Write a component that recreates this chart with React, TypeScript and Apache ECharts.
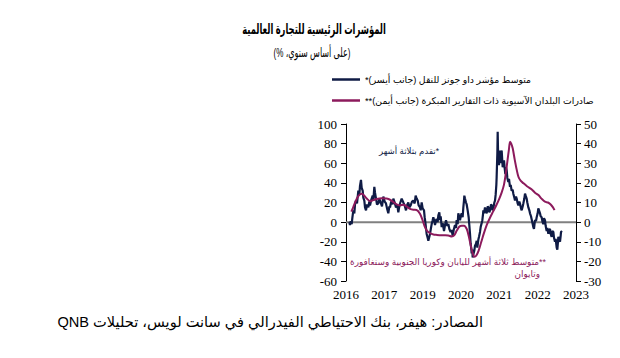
import React, { useEffect, useRef } from "react";
import * as echarts from "echarts";

// x positions are in axis periods (0 = first label, 1 = next label, ...)
const X_LABELS = ["2016", "2017", "2019", "2020", "2021", "2022", "2023"];

const TITLE = "المؤشرات الرئيسية للتجارة العالمية";
const SUBTITLE = "(على أساس سنوي، %)";
const RLE = "\u202B";
const PDF = "\u202C";
const NAVY_NAME = "متوسط مؤشر داو جونز للنقل (جانب أيسر)*";
const MAROON_NAME = "صادرات البلدان الآسيوية ذات التقارير المبكرة (جانب أيمن)**";
const NOTE_NAVY = "*تقدم بثلاثة أشهر";
const NOTE_MAROON_1 = "**متوسط ثلاثة أشهر لليابان وكوريا الجنوبية وسنغافورة";
const NOTE_MAROON_2 = "وتايوان";
const SOURCE = "المصادر: هيفر، بنك الاحتياطي الفيدرالي في سانت لويس، تحليلات QNB";

// Dow Jones Transport index, 3m avg, y/y % (left axis)
const NAVY: [number, number][] = [
  [0.087, 0], [0.104, -3], [0.122, 1], [0.148, -2], [0.165, 4], [0.191, 12], [0.217, 9], [0.235, 18],
  [0.261, 22], [0.287, 19], [0.322, 32], [0.348, 28], [0.365, 37], [0.391, 43], [0.409, 35], [0.435, 32],
  [0.452, 25], [0.478, 22], [0.496, 15], [0.522, 12], [0.548, 18], [0.583, 15], [0.609, 21], [0.626, 17],
  [0.661, 23], [0.696, 27], [0.713, 22], [0.739, 36], [0.757, 30], [0.783, 24], [0.809, 18], [0.843, 19],
  [0.87, 24], [0.904, 20], [0.939, 16], [0.974, 26], [1.009, 21], [1.043, 19], [1.07, 14], [1.104, 9],
  [1.13, 16], [1.148, 15], [1.174, 20], [1.191, 22], [1.217, 18], [1.235, 24], [1.27, 20], [1.304, 15],
  [1.339, 17], [1.365, 10], [1.391, 16], [1.409, 19], [1.452, 24], [1.496, 20], [1.53, 17], [1.565, 12],
  [1.6, 18], [1.626, 20], [1.652, 15], [1.687, 17], [1.722, 21], [1.757, 22], [1.791, 19], [1.817, 27],
  [1.843, 24], [1.87, 22], [1.896, 17], [1.93, 15], [1.948, 12], [1.974, 20], [2.0, 14], [2.035, 12],
  [2.052, 5], [2.07, 0], [2.087, -6], [2.104, -12], [2.13, -16], [2.148, -19], [2.174, -15], [2.191, -12],
  [2.217, -6], [2.235, -2], [2.261, 2], [2.278, 5], [2.304, 1], [2.322, -3], [2.348, 2], [2.365, 3],
  [2.391, 0], [2.409, 7], [2.435, 10], [2.452, 2], [2.47, 6], [2.496, -5], [2.522, -1], [2.557, -9],
  [2.583, -3], [2.609, 2], [2.643, -4], [2.67, -2], [2.696, -7], [2.73, -10], [2.757, -8], [2.783, -14],
  [2.809, -8], [2.843, -3], [2.87, -6], [2.887, 2], [2.913, -2], [2.93, 9], [2.957, 5], [2.974, 2],
  [3.0, 7], [3.017, 9], [3.043, 5], [3.061, 15], [3.078, 22], [3.087, 27], [3.104, 24], [3.13, 20],
  [3.148, 18], [3.174, 12], [3.2, 5], [3.217, -3], [3.235, -12], [3.252, -22], [3.27, -28], [3.278, -32],
  [3.296, -28], [3.304, -36], [3.322, -33], [3.348, -29], [3.365, -24], [3.391, -22], [3.409, -19], [3.426, -26],
  [3.452, -18], [3.47, -15], [3.496, -10], [3.513, -5], [3.539, -1], [3.557, 2], [3.574, 8], [3.583, 12],
  [3.6, 9], [3.626, 15], [3.652, 11], [3.67, 9], [3.696, 16], [3.713, 15], [3.739, 10], [3.757, 12],
  [3.783, 18], [3.8, 17], [3.826, 12], [3.843, 14], [3.87, 20], [3.887, 22], [3.904, 28], [3.922, 38],
  [3.93, 46], [3.948, 70], [3.957, 92], [3.965, 75], [3.974, 63], [3.991, 58], [4.0, 73], [4.017, 65],
  [4.026, 60], [4.043, 68], [4.061, 73], [4.078, 62], [4.087, 56], [4.104, 58], [4.122, 63], [4.139, 55],
  [4.157, 49], [4.174, 56], [4.191, 53], [4.209, 45], [4.235, 41], [4.252, 44], [4.278, 36], [4.296, 38],
  [4.322, 32], [4.348, 33], [4.365, 29], [4.391, 25], [4.409, 22], [4.435, 26], [4.452, 24], [4.478, 19],
  [4.496, 17], [4.522, 21], [4.539, 19], [4.565, 14], [4.583, 12], [4.609, 16], [4.626, 19], [4.652, 24],
  [4.67, 29], [4.687, 27], [4.713, 24], [4.73, 20], [4.757, 15], [4.783, 12], [4.8, 9], [4.826, 6],
  [4.843, 3], [4.87, -2], [4.887, -5], [4.904, -7], [4.93, 2], [4.957, 1], [4.974, 5], [5.0, 9],
  [5.017, 14], [5.035, 12], [5.061, 9], [5.078, 6], [5.104, 5], [5.122, 1], [5.148, -2], [5.165, 4],
  [5.191, 2], [5.209, -4], [5.235, -9], [5.252, -6], [5.278, -12], [5.296, -8], [5.322, -7], [5.339, -12],
  [5.365, -15], [5.383, -9], [5.409, -10], [5.426, -16], [5.452, -20], [5.47, -17], [5.496, -26], [5.513, -28],
  [5.53, -20], [5.539, -15], [5.557, -18], [5.583, -20], [5.6, -14], [5.609, -10], [5.635, -9],
];

// Early-reporting Asian exports, 3m avg, y/y % (right axis)
const MAROON: [number, number][] = [
  [0.14, 5.3], [0.19, 7.7], [0.26, 11], [0.32, 13.2], [0.4, 14.4], [0.46, 13.8], [0.54, 12], [0.63, 10.7],
  [0.71, 11.2], [0.8, 11.8], [0.93, 12.2], [1.06, 12], [1.15, 11.4], [1.24, 10.2], [1.32, 9], [1.41, 8.5],
  [1.5, 8.9], [1.58, 8], [1.67, 6.8], [1.76, 6.3], [1.84, 6.2], [1.93, 4.3], [2.0, 0.9], [2.06, -2.6],
  [2.12, -4.6], [2.19, -5.6], [2.28, -6.3], [2.37, -6.5], [2.54, -6.7], [2.67, -6.8], [2.76, -7.3], [2.82, -6.8],
  [2.89, -4.3], [2.96, -2.2], [3.02, -1.8], [3.08, -1.8], [3.15, -3.5], [3.2, -7], [3.25, -11.5], [3.3, -15.5],
  [3.35, -17.7], [3.4, -17], [3.46, -14.5], [3.53, -10], [3.6, -5.5], [3.67, -1.5], [3.75, 2], [3.84, 5.5],
  [3.93, 9], [4.0, 12], [4.06, 15], [4.12, 19], [4.17, 25], [4.21, 31], [4.25, 37], [4.28, 41],
  [4.31, 40], [4.35, 37.5], [4.4, 32], [4.45, 27], [4.5, 23], [4.56, 21], [4.63, 19.8], [4.72, 18.3],
  [4.84, 16.8], [4.93, 15], [5.02, 13.8], [5.1, 12], [5.19, 10.4], [5.27, 10], [5.34, 9], [5.4, 7.5],
  [5.44, 6.1],
];

const ZERO_LINE: [number, number][] = [[0, 0], [6, 0]];

const NAVY_COLOR = "#0f1b45";
const MAROON_COLOR = "#8c1a5c";
const AR_FONT = "'Liberation Sans', 'DejaVu Sans', sans-serif";
const NUM_FONT = "'Liberation Serif', 'DejaVu Serif', serif";

const rtl = (s: string) => RLE + s + PDF;

export default function App() {
  const ref = useRef<HTMLDivElement>(null);
  useEffect(() => {
    document.body.style.margin = "0";
    if (!ref.current) return;
    const chart = echarts.init(ref.current, undefined, { renderer: "svg" });
    chart.setOption({
      animation: false,
      backgroundColor: "#ffffff",
      grid: { left: 346, right: 44, top: 124, bottom: 77, containLabel: false },
      legend: {
        orient: "vertical",
        left: 327,
        top: 69,
        itemWidth: 28,
        itemHeight: 2.5,
        itemGap: 10,
        icon: "rect",
        data: [rtl(NAVY_NAME), rtl(MAROON_NAME)],
        textStyle: { fontSize: 9.3, fontFamily: AR_FONT, color: "#000", lineHeight: 11, padding: [0, 0, 0, 0] },
      },
      xAxis: {
        type: "value",
        min: 0,
        max: 6,
        interval: 1,
        axisLine: { show: false },
        axisTick: { show: false },
        splitLine: { show: false },
        axisLabel: {
          margin: 7,
          fontSize: 13,
          fontFamily: NUM_FONT,
          color: "#000",
          formatter: (v: number) => X_LABELS[Math.round(v)] ?? "",
        },
      },
      yAxis: [
        {
          type: "value",
          min: -60,
          max: 100,
          interval: 20,
          position: "left",
          axisLine: { show: true, lineStyle: { color: "#000", width: 1 } },
          axisTick: { show: true, length: 5, lineStyle: { color: "#000" } },
          splitLine: { show: false },
          axisLabel: { margin: 9, fontSize: 13, fontFamily: NUM_FONT, color: "#000" },
        },
        {
          type: "value",
          min: -30,
          max: 50,
          interval: 10,
          position: "right",
          axisLine: { show: true, lineStyle: { color: "#000", width: 1 } },
          axisTick: { show: true, length: 5, lineStyle: { color: "#000" } },
          splitLine: { show: false },
          axisLabel: { margin: 8, fontSize: 13, fontFamily: NUM_FONT, color: "#000" },
        },
      ],
      series: [
        {
          name: "zero",
          type: "line",
          yAxisIndex: 0,
          data: ZERO_LINE,
          showSymbol: false,
          symbol: "none",
          silent: true,
          z: 1,
          lineStyle: { color: "#808080", width: 2 },
        },
        {
          name: rtl(NAVY_NAME),
          type: "line",
          yAxisIndex: 0,
          data: NAVY,
          symbol: "none",
          z: 2,
          color: NAVY_COLOR,
          lineStyle: { color: NAVY_COLOR, width: 2.2 },
        },
        {
          name: rtl(MAROON_NAME),
          type: "line",
          yAxisIndex: 1,
          data: MAROON,
          symbol: "none",
          smooth: 0.3,
          z: 3,
          color: MAROON_COLOR,
          lineStyle: { color: MAROON_COLOR, width: 2 },
        },
      ],
      graphic: [
        {
          type: "text",
          x: 314,
          y: 29,
          scaleX: 0.6,
          style: {
            text: rtl(TITLE),
            fontSize: 14,
            fontWeight: "bold",
            fontFamily: AR_FONT,
            fill: "#000",
            textAlign: "center",
            textVerticalAlign: "middle",
          },
        },
        {
          type: "text",
          x: 312,
          y: 52,
          scaleX: 0.62,
          style: {
            text: rtl(SUBTITLE),
            fontSize: 13,
            fontFamily: AR_FONT,
            fill: "#000",
            textAlign: "center",
            textVerticalAlign: "middle",
          },
        },
        {
          type: "text",
          x: 439,
          y: 151,
          z: 10,
          style: {
            text: rtl(NOTE_NAVY),
            fontSize: 8.6,
            fontFamily: AR_FONT,
            fill: NAVY_COLOR,
            textAlign: "right",
            textVerticalAlign: "middle",
          },
        },
        {
          type: "text",
          x: 546,
          y: 262,
          z: 10,
          style: {
            text: rtl(NOTE_MAROON_1),
            fontSize: 8.9,
            fontFamily: AR_FONT,
            fill: MAROON_COLOR,
            textAlign: "right",
            textVerticalAlign: "middle",
          },
        },
        {
          type: "text",
          x: 540,
          y: 274,
          z: 10,
          style: {
            text: rtl(NOTE_MAROON_2),
            fontSize: 8.9,
            fontFamily: AR_FONT,
            fill: MAROON_COLOR,
            textAlign: "right",
            textVerticalAlign: "middle",
          },
        },
        {
          type: "text",
          x: 483,
          y: 322,
          style: {
            text: rtl(SOURCE),
            fontSize: 14.6,
            fontFamily: AR_FONT,
            fill: "#000",
            textAlign: "right",
            textVerticalAlign: "middle",
          },
        },
      ],
    });
    return () => chart.dispose();
  }, []);
  return <div ref={ref} style={{ width: 620, height: 358 }} />;
}
